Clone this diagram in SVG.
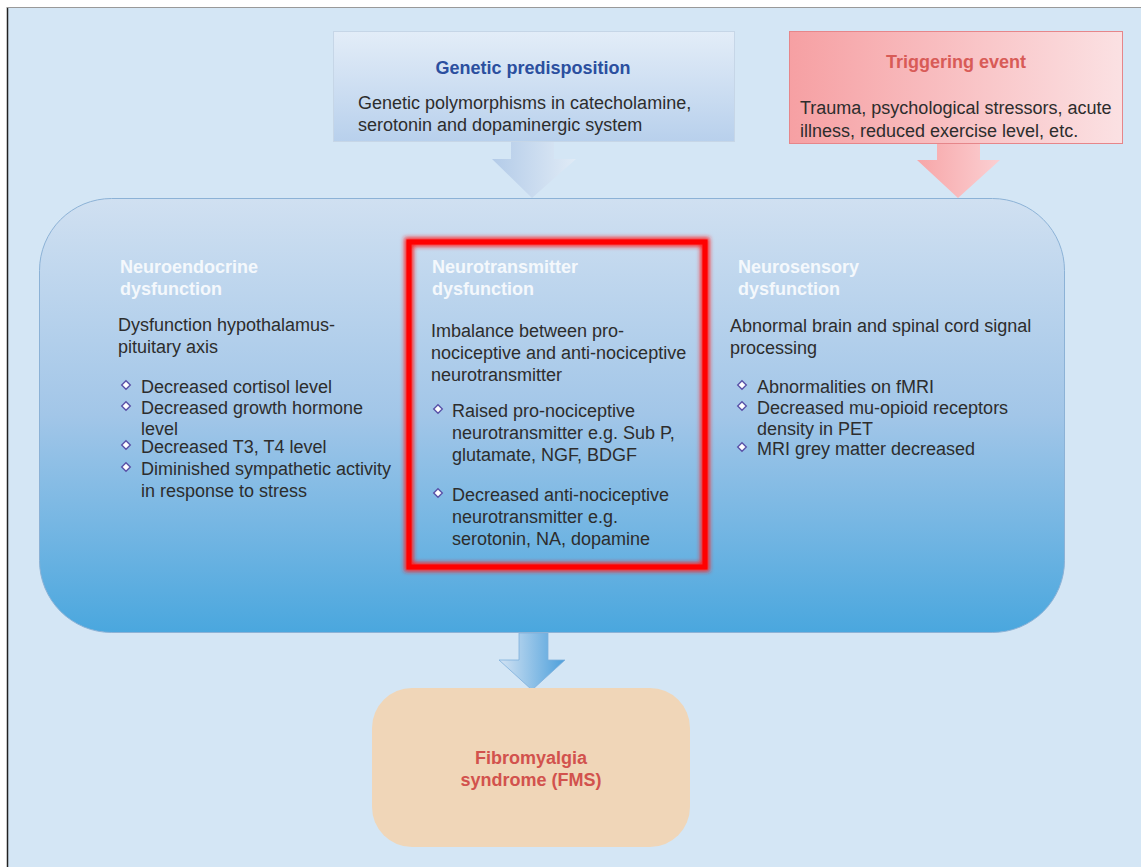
<svg xmlns="http://www.w3.org/2000/svg" width="1141" height="867" viewBox="0 0 1141 867">
<defs>
<linearGradient id="gGen" x1="0" y1="0" x2="0" y2="1">
<stop offset="0" stop-color="#e3edf8"/><stop offset="1" stop-color="#b8d0ec"/>
</linearGradient>
<linearGradient id="gGenArrow" x1="0" y1="0" x2="1" y2="0">
<stop offset="0" stop-color="#b3cbe8"/><stop offset="1" stop-color="#e0ebf6"/>
</linearGradient>
<linearGradient id="gTrig" x1="0" y1="0" x2="1" y2="0">
<stop offset="0" stop-color="#f6a0a3"/><stop offset="1" stop-color="#fbe1e3"/>
</linearGradient>
<linearGradient id="gTrigArrow" x1="0" y1="0" x2="1" y2="0">
<stop offset="0" stop-color="#f7a6a8"/><stop offset="1" stop-color="#fbcfd2"/>
</linearGradient>
<linearGradient id="gMain" x1="0" y1="0" x2="0" y2="1">
<stop offset="0" stop-color="#d0e0f1"/><stop offset="0.5" stop-color="#a2c6e8"/><stop offset="1" stop-color="#4aa7de"/>
</linearGradient>
<linearGradient id="gDown" x1="0" y1="0" x2="1" y2="0">
<stop offset="0" stop-color="#d3e3f3"/><stop offset="1" stop-color="#4c9fdb"/>
</linearGradient>
<filter id="glow" x="-10%" y="-10%" width="120%" height="120%">
<feGaussianBlur stdDeviation="2"/>
</filter>
<symbol id="dia" viewBox="-5 -5 10 10" overflow="visible">
<path d="M0 -4.3 L4.3 0 L0 4.3 L-4.3 0 Z" fill="#ffffff" stroke="#5a52a8" stroke-width="1.4"/>
</symbol>
</defs>
<style>
text{font-family:"Liberation Sans",Arial,sans-serif;font-size:18px;fill:#2d2d2d}
.hd{font-weight:bold;fill:#f4f8fc}
.blue{font-weight:bold;fill:#2b4f9f}
.red{font-weight:bold;fill:#d85b57}
.fms{font-weight:bold;fill:#d2524d}
</style>
<rect x="0" y="0" width="1141" height="867" fill="#ffffff"/>
<rect x="8" y="8" width="1133" height="859" fill="#d4e6f5"/>
<line x1="7.5" y1="7" x2="7.5" y2="867" stroke="#222" stroke-width="1.5"/>
<line x1="7" y1="7.5" x2="1141" y2="7.5" stroke="#999" stroke-width="1"/>

<g id="connectors">
<path d="M511 141 L554 141 L554 159 L576 159 L532 198 L492 159 L511 159 Z" fill="url(#gGenArrow)"/>
<path d="M937 143 L980 143 L980 160 L1000 160 L958 198 L917 160 L937 160 Z" fill="url(#gTrigArrow)"/>
<path d="M519 633 L548 633 L548 660 L565 660 L532 690 L499 660 L519 660 Z" fill="url(#gDown)" stroke="#7fb0dc" stroke-width="0.8"/>
</g>

<g id="genetic">
<rect x="333.5" y="31.5" width="401" height="110" fill="url(#gGen)" stroke="#c6d6e7" stroke-width="1"/>
<text x="533" y="74" text-anchor="middle" class="blue">Genetic predisposition</text>
<text x="358" y="109">Genetic polymorphisms in catecholamine,</text>
<text x="358" y="131">serotonin and dopaminergic system</text>
</g>

<g id="trigger">
<rect x="789.5" y="31.5" width="333" height="112" fill="url(#gTrig)" stroke="#e6868a" stroke-width="1"/>
<text x="956" y="68" text-anchor="middle" class="red">Triggering event</text>
<text x="800" y="114">Trauma, psychological stressors, acute</text>
<text x="800" y="137">illness, reduced exercise level, etc.</text>
</g>

<g id="main">
<rect x="39.5" y="198.5" width="1025" height="434" rx="72" ry="72" fill="url(#gMain)" stroke="#8cb2d6" stroke-width="1"/>
</g>

<g id="neuroendocrine">
<text x="120" y="273" class="hd">Neuroendocrine</text>
<text x="120" y="295" class="hd">dysfunction</text>
<text x="118" y="331">Dysfunction hypothalamus-</text>
<text x="118" y="353">pituitary axis</text>
<use href="#dia" x="121" y="380" width="10" height="10"/>
<text x="141" y="393">Decreased cortisol level</text>
<use href="#dia" x="121" y="401" width="10" height="10"/>
<text x="141" y="414">Decreased growth hormone</text>
<text x="141" y="435">level</text>
<use href="#dia" x="121" y="440" width="10" height="10"/>
<text x="141" y="453">Decreased T3, T4 level</text>
<use href="#dia" x="121" y="462" width="10" height="10"/>
<text x="141" y="475">Diminished sympathetic activity</text>
<text x="141" y="497">in response to stress</text>
</g>

<g id="neurotransmitter">
<rect x="409" y="242" width="296" height="325" fill="none" stroke="#ff2020" stroke-width="9" filter="url(#glow)"/>
<rect x="409" y="242" width="296" height="325" fill="none" stroke="#ff0000" stroke-width="5"/>
<text x="432" y="273" class="hd">Neurotransmitter</text>
<text x="432" y="295" class="hd">dysfunction</text>
<text x="431" y="337">Imbalance between pro-</text>
<text x="431" y="359">nociceptive and anti-nociceptive</text>
<text x="431" y="381">neurotransmitter</text>
<use href="#dia" x="433" y="404" width="10" height="10"/>
<text x="452" y="417">Raised pro-nociceptive</text>
<text x="452" y="439">neurotransmitter e.g. Sub P,</text>
<text x="452" y="461">glutamate, NGF, BDGF</text>
<use href="#dia" x="433" y="488" width="10" height="10"/>
<text x="452" y="501">Decreased anti-nociceptive</text>
<text x="452" y="523">neurotransmitter e.g.</text>
<text x="452" y="545">serotonin, NA, dopamine</text>
</g>

<g id="neurosensory">
<text x="738" y="273" class="hd">Neurosensory</text>
<text x="738" y="295" class="hd">dysfunction</text>
<text x="730" y="332">Abnormal brain and spinal cord signal</text>
<text x="730" y="354">processing</text>
<use href="#dia" x="737" y="380" width="10" height="10"/>
<text x="757" y="393">Abnormalities on fMRI</text>
<use href="#dia" x="737" y="401" width="10" height="10"/>
<text x="757" y="414">Decreased mu-opioid receptors</text>
<text x="757" y="435">density in PET</text>
<use href="#dia" x="737" y="442" width="10" height="10"/>
<text x="757" y="455">MRI grey matter decreased</text>
</g>

<g id="fms">
<rect x="372" y="688" width="318" height="159" rx="40" ry="40" fill="#f0d6b8"/>
<text x="531" y="764" text-anchor="middle" class="fms">Fibromyalgia</text>
<text x="531" y="786" text-anchor="middle" class="fms">syndrome (FMS)</text>
</g>
</svg>
